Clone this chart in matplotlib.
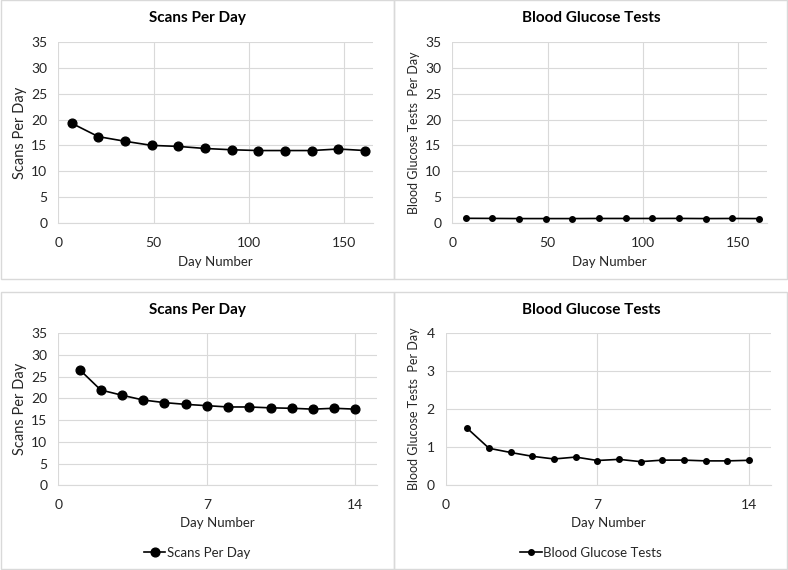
import numpy as np
import matplotlib
matplotlib.use("Agg")
import matplotlib.pyplot as plt
from matplotlib.patches import Rectangle

plt.rcParams['font.family'] = ['Lato', 'DejaVu Sans']

# weekly averages (top row)
week_days = [7, 21, 35, 49, 63, 77, 91, 105, 119, 133, 147, 161]
week_scans = [19.3, 16.7, 15.8, 15.0, 14.8, 14.4, 14.15, 14.0, 14.0, 14.0, 14.3, 14.0]
week_bg = [0.85, 0.83, 0.8, 0.8, 0.8, 0.82, 0.82, 0.82, 0.83, 0.8, 0.82, 0.8]

# first two weeks, daily (bottom row)
days = [1, 2, 3, 4, 5, 6, 7, 8, 9, 10, 11, 12, 13, 14]
day_scans = [26.6, 21.9, 20.7, 19.6, 19.0, 18.6, 18.3, 18.0, 18.0, 17.8, 17.7, 17.5, 17.7, 17.5]
day_bg = [1.49, 0.97, 0.86, 0.76, 0.69, 0.74, 0.65, 0.68, 0.62, 0.66, 0.66, 0.64, 0.64, 0.655]

W, H = 788, 570
GRID = '#d9d9d9'
TXT = '#262626'

fig = plt.figure(figsize=(W / 100, H / 100), dpi=100)


def px_axes(left, top, right, bottom):
    return fig.add_axes([left / W, 1 - bottom / H, (right - left) / W, (bottom - top) / H])


def box(x0, y0, x1, y1):
    fig.patches.append(Rectangle((x0 / W, 1 - y1 / H), (x1 - x0) / W, (y1 - y0) / H,
                                 transform=fig.transFigure, fill=False,
                                 edgecolor=GRID, linewidth=1.0))


def panel(rect, x, y, xlim, xticks, ylim, yticks, title, ylabel, ylsize, ms, cx, ty, ylx, xly,
          legend_y=None):
    ax = px_axes(*rect)
    ax.plot(x, y, color='black', marker='o', markersize=ms, linewidth=1.2, label=title)
    ax.set_xlim(*xlim)
    ax.set_ylim(*ylim)
    ax.set_xticks(xticks)
    ax.set_yticks(yticks)
    ax.grid(True, color=GRID, linewidth=0.8)
    ax.set_axisbelow(True)
    for s in ['top', 'right', 'left']:
        ax.spines[s].set_visible(False)
    ax.spines['bottom'].set_color(GRID)
    ax.tick_params(length=0, labelsize=10, labelcolor=TXT)
    ax.tick_params(axis='x', pad=10)
    ax.tick_params(axis='y', pad=8)
    fig.text(cx / W, 1 - ty / H, title, ha='center', va='center', fontsize=11,
             fontweight='bold', color='black')
    acx = (rect[0] + rect[2]) / 2
    acy = (rect[1] + rect[3]) / 2
    fig.text(ylx / W, 1 - acy / H, ylabel, rotation=90, ha='center', va='center',
             fontsize=ylsize, color=TXT)
    fig.text(acx / W, 1 - xly / H, 'Day Number', ha='center', va='center',
             fontsize=9.5, color=TXT)
    if legend_y is not None:
        fig.legend(handles=ax.get_lines(), loc='center', frameon=False, fontsize=9.5,
                   bbox_to_anchor=(cx / W, 1 - legend_y / H), handlelength=1.6,
                   handletextpad=0.1, labelcolor=TXT)
    return ax


box(1, 0.5, 394, 279)
box(394, 0.5, 787, 279)
box(1, 292, 394, 569)
box(394, 292, 787, 569)

panel((58.3, 42.3, 372.7, 222.7), week_days, week_scans, (0, 165), [0, 50, 100, 150],
      (0, 35), range(0, 36, 5), 'Scans Per Day', 'Scans Per Day', 10.5, 6.3, 197, 18, 20, 262)
panel((452.3, 42.3, 766.7, 222.7), week_days, week_bg, (0, 165), [0, 50, 100, 150],
      (0, 35), range(0, 36, 5), 'Blood Glucose Tests', 'Blood Glucose Tests  Per Day', 9,
      4.0, 591, 18, 414, 262)
panel((58.3, 333, 376.7, 485.3), days, day_scans, (0, 15), [0, 7, 14],
      (0, 35), range(0, 36, 5), 'Scans Per Day', 'Scans Per Day', 10.5, 6.3, 197, 310, 20, 523,
      legend_y=553)
panel((445.7, 332.7, 770.7, 485.3), days, day_bg, (0, 15), [0, 7, 14],
      (0, 4), range(0, 5), 'Blood Glucose Tests', 'Blood Glucose Tests  Per Day', 9, 4.0,
      591, 310, 414, 523, legend_y=553)

fig.savefig('out.png', dpi=100)
